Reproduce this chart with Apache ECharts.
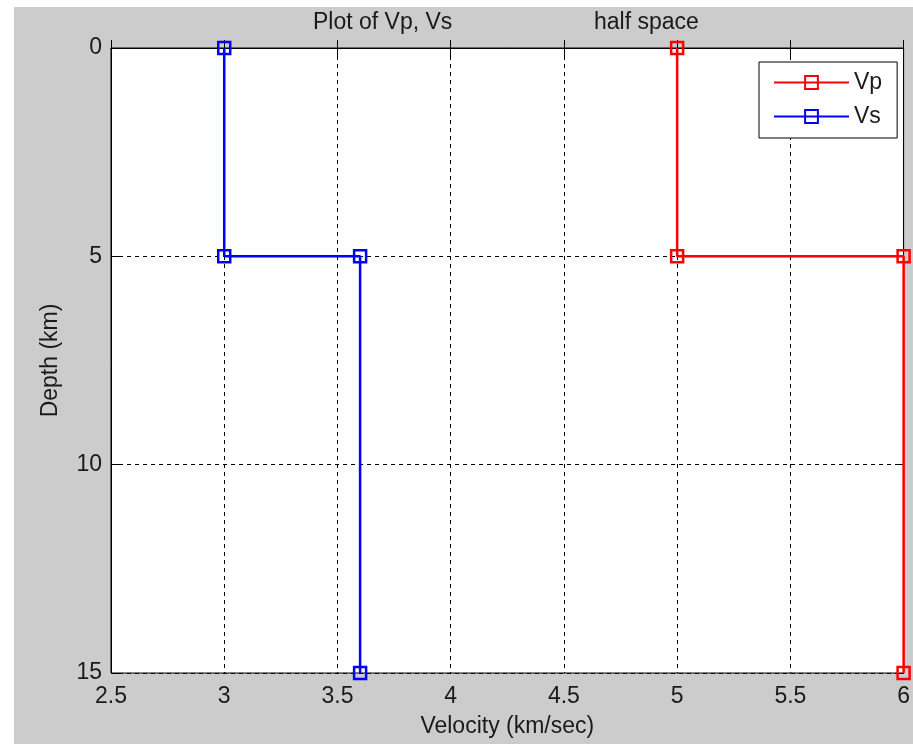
<!DOCTYPE html>
<html>
<head>
<meta charset="utf-8">
<script src="https://cdn.jsdelivr.net/npm/echarts@6/dist/echarts.min.js"></script>
<style>
html,body{margin:0;padding:0;background:#fff;width:913px;height:744px;overflow:hidden;}
#chart{position:absolute;left:14px;top:7px;width:899px;height:737px;background:#cccccc;}
</style>
</head>
<body>
<div id="chart"></div>
<script>
// Data
var vpVelocity = [5, 5, 6, 6];
var vpDepth = [0, 5, 5, 15];
var vsVelocity = [3, 3, 3.6, 3.6];
var vsDepth = [0, 5, 5, 15];
var seriesNames = ['Vp', 'Vs'];
var titleLeft = 'Plot of Vp, Vs';
var titleRight = 'half space';
var xName = 'Velocity (km/sec)';
var yName = 'Depth (km)';
var xMin = 2.5, xMax = 6, xStep = 0.5;
var yMin = 0, yMax = 15, yStep = 5;

function pairs(xs, ys) { return xs.map(function (x, i) { return [x, ys[i]]; }); }

var FONT = "'Liberation Sans', Arial, sans-serif";
var TXT = '#1a1a1a';
var chart = echarts.init(document.getElementById('chart'), null, {renderer: 'canvas'});

var gridLine = {show: true, lineStyle: {color: '#000', type: [4, 4], width: 1}};
var tick = {show: true, inside: true, length: 8, lineStyle: {color: '#000'}};
var line = {show: true, lineStyle: {color: '#000', width: 1}};

function mkSeries(name, data, color) {
  return {
    name: name, type: 'line', data: data, clip: false,
    symbol: 'rect', symbolSize: 12,
    lineStyle: {color: color, width: 2.5},
    itemStyle: {color: 'rgba(0,0,0,0)', borderColor: color, borderWidth: 2.5},
    emphasis: {disabled: true},
    animation: false
  };
}

chart.setOption({
  animation: false,
  textStyle: {fontFamily: FONT},
  title: [
    {text: titleLeft, left: 299, top: 4, padding: 0,
     textStyle: {fontSize: 23, fontWeight: 'normal', color: TXT, fontFamily: FONT}},
    {text: titleRight, left: 580, top: 4, padding: 0,
     textStyle: {fontSize: 23, fontWeight: 'normal', color: TXT, fontFamily: FONT}}
  ],
  grid: {left: 97, top: 41, right: 7, bottom: 71, show: true, backgroundColor: '#fff', borderColor: '#000', borderWidth: 1},
  legend: {
    data: seriesNames, orient: 'vertical', left: 745, top: 55,
    padding: [9, 15, 10, 14], itemGap: 11, itemWidth: 75, itemHeight: 16,
    backgroundColor: '#fff', borderColor: '#000', borderWidth: 1,
    textStyle: {fontSize: 23, color: TXT, fontFamily: FONT},
    selectedMode: false
  },
  xAxis: [
    {type: 'value', min: xMin, max: xMax, interval: xStep, position: 'bottom',
     name: xName, nameLocation: 'middle', nameGap: 42,
     nameTextStyle: {fontSize: 23, color: TXT, fontFamily: FONT},
     axisLine: line, axisTick: tick, splitLine: gridLine,
     axisLabel: {fontSize: 23, color: TXT, margin: 12, fontFamily: FONT}},
    {type: 'value', min: xMin, max: xMax, interval: xStep, position: 'top',
     axisLine: line, axisTick: tick, splitLine: {show: false}, axisLabel: {show: false}}
  ],
  yAxis: [
    {type: 'value', min: yMin, max: yMax, interval: yStep, inverse: true, position: 'left',
     name: yName, nameLocation: 'middle', nameGap: 49, nameRotate: 90,
     nameTextStyle: {fontSize: 23, color: TXT, fontFamily: FONT},
     axisLine: line, axisTick: tick, splitLine: gridLine,
     axisLabel: {fontSize: 23, color: TXT, margin: 9, padding: [4, 0, 0, 0], fontFamily: FONT}},
    {type: 'value', min: yMin, max: yMax, interval: yStep, inverse: true, position: 'right',
     axisLine: line, axisTick: tick, splitLine: {show: false}, axisLabel: {show: false}}
  ],
  series: [
    mkSeries(seriesNames[0], pairs(vpVelocity, vpDepth), '#ff0000'),
    mkSeries(seriesNames[1], pairs(vsVelocity, vsDepth), '#0000ff')
  ]
});
</script>
</body>
</html>
